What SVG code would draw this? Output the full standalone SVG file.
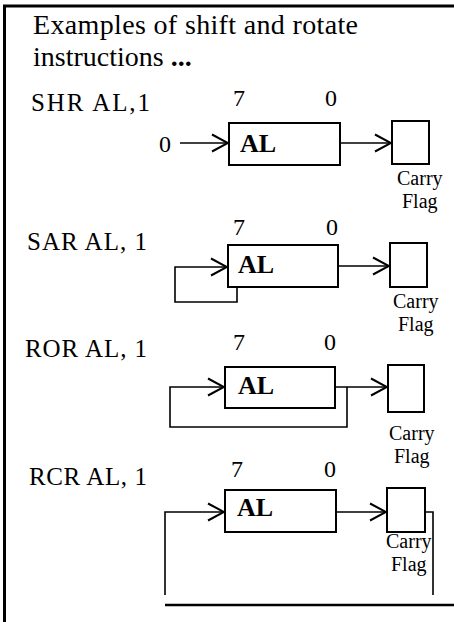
<svg xmlns="http://www.w3.org/2000/svg" width="454" height="622" viewBox="0 0 454 622">
<defs>
<marker id="arr" viewBox="0 0 18 20" refX="17" refY="10" markerWidth="18" markerHeight="20" markerUnits="userSpaceOnUse" orient="auto">
<path d="M1,1.5 L17,10 L1,18.5" fill="none" stroke="#000" stroke-width="2"/>
</marker>
<style>
text{font-family:"Liberation Serif","Times New Roman",serif;fill:#000}
.title{font-size:28px}
.lbl{font-size:25px}
.bit{font-size:24px}
.al{font-size:26px;font-weight:bold}
.cf{font-size:20px}
.box{fill:#fff;stroke:#000;stroke-width:2}
.ln{fill:none;stroke:#000;stroke-width:1.6}
.ar{fill:none;stroke:#000;stroke-width:1.6;marker-end:url(#arr)}
</style>
</defs>
<rect width="454" height="622" fill="#fff"/>
<g id="frame">
<line x1="3" y1="6" x2="454" y2="6" stroke="#000" stroke-width="3"/>
<line x1="4.5" y1="5" x2="4.5" y2="622" stroke="#000" stroke-width="3"/>
</g>
<g id="title">
<text class="title" x="33" y="34" textLength="325" lengthAdjust="spacing">Examples of shift and rotate</text>
<text class="title" x="33" y="66">instructions <tspan font-weight="bold">...</tspan></text>
</g>
<g id="shr">
<text class="lbl" x="31" y="111" textLength="119" lengthAdjust="spacing">SHR AL,1</text>
<text class="bit" x="233" y="106">7</text>
<text class="bit" x="325" y="106">0</text>
<text class="bit" x="159" y="152">0</text>
<rect class="box" x="229" y="123" width="111" height="42"/>
<text class="al" x="240" y="152">AL</text>
<rect class="box" x="392" y="121" width="37" height="43"/>
<text class="cf" x="397" y="185">Carry</text>
<text class="cf" x="402" y="208">Flag</text>
</g>
<g id="sar">
<text class="lbl" x="27" y="250" textLength="120" lengthAdjust="spacing">SAR AL, 1</text>
<text class="bit" x="233" y="235">7</text>
<text class="bit" x="326" y="235">0</text>
<rect class="box" x="228" y="245" width="110" height="42"/>
<text class="al" x="238" y="273">AL</text>
<rect class="box" x="390" y="243" width="37" height="44"/>
<text class="cf" x="393" y="308">Carry</text>
<text class="cf" x="398" y="331">Flag</text>
</g>
<g id="ror">
<text class="lbl" x="25" y="357" textLength="122" lengthAdjust="spacing">ROR AL, 1</text>
<text class="bit" x="233" y="350">7</text>
<text class="bit" x="324" y="350">0</text>
<rect class="box" x="225" y="367" width="110" height="41"/>
<text class="al" x="238" y="394">AL</text>
<rect class="box" x="388" y="365" width="36" height="47"/>
<text class="cf" x="389" y="440">Carry</text>
<text class="cf" x="394" y="463">Flag</text>
</g>
<g id="rcr">
<text class="lbl" x="29" y="485" textLength="118" lengthAdjust="spacing">RCR AL, 1</text>
<text class="bit" x="231" y="477">7</text>
<text class="bit" x="324" y="477">0</text>
<rect class="box" x="225" y="490" width="111" height="42"/>
<text class="al" x="237" y="516">AL</text>
<rect class="box" x="387" y="488" width="38" height="44"/>
<text class="cf" x="386" y="548">Carry</text>
<text class="cf" x="391" y="571">Flag</text>
</g>
<g id="connectors">
<line class="ar" x1="180" y1="143" x2="228" y2="143"/>
<line class="ar" x1="340" y1="143" x2="391" y2="143"/>
<polyline class="ar" points="237,288 237,302 175,302 175,267 227,267"/>
<line class="ar" x1="338" y1="266" x2="389" y2="266"/>
<line class="ar" x1="335" y1="387" x2="387" y2="387"/>
<polyline class="ar" points="347,387 347,427 170,427 170,387 224,387"/>
<polyline class="ar" points="165,595 165,512 224,512"/>
<line class="ar" x1="336" y1="512" x2="386" y2="512"/>
<polyline class="ln" points="425,512 433,512 433,595"/>
<line x1="165" y1="605" x2="454" y2="605" stroke="#000" stroke-width="2.5"/>
</g>
</svg>
